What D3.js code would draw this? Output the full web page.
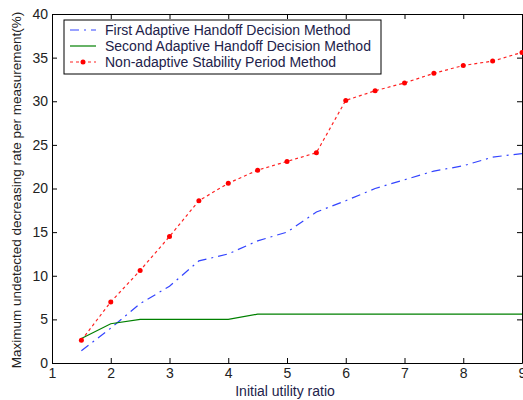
<!DOCTYPE html>
<html>
<head>
  <script src="https://d3js.org/d3.v7.min.js"></script>
  <style>
    body { margin: 0; background: white; }
    text { font-family: Arial, "Liberation Sans", sans-serif; }
  </style>
</head>
<body>
  <script>
    const ratios = [1.5, 2, 2.5, 3, 3.5, 4, 4.5, 5, 5.5, 6, 6.5, 7, 7.5, 8, 8.5, 9]
    const firstAdaptive = [1.4, 4.0, 6.8, 8.8, 11.7, 12.5, 14.0, 15.0, 17.3, 18.6, 20.0, 21.0, 22.0, 22.6, 23.6, 24.0]
    const secondAdaptive = [2.8, 4.5, 5.0, 5.0, 5.0, 5.0, 5.6, 5.6, 5.6, 5.6, 5.6, 5.6, 5.6, 5.6, 5.6, 5.6]
    const nonAdaptive = [2.6, 7.0, 10.6, 14.5, 18.6, 20.6, 22.1, 23.1, 24.1, 30.1, 31.2, 32.1, 33.2, 34.1, 34.6, 35.6]
    const xTicks = [1, 2, 3, 4, 5, 6, 7, 8, 9]
    const yTicks = [0, 5, 10, 15, 20, 25, 30, 35, 40]
    const seriesNames = ['First Adaptive Handoff Decision Method', 'Second Adaptive Handoff Decision Method', 'Non-adaptive Stability Period Method']

    const width = 523, height = 400
    const margin = {left: 52, right: 1, top: 14, bottom: 37}
    const svg = d3.select('body').append('svg')
      .attr('width', width).attr('height', height)

    const x = d3.scaleLinear().domain([1, 9]).range([margin.left, width - margin.right])
    const y = d3.scaleLinear().domain([0, 40]).range([height - margin.bottom, margin.top])

    // axes, matlab style: ticks inside, on all four sides
    const tickLen = 5
    svg.append('g').attr('transform', `translate(0,${y(0)})`)
      .call(d3.axisBottom(x).tickValues(xTicks).tickSizeInner(-tickLen).tickSizeOuter(0).tickPadding(5))
    svg.append('g').attr('transform', `translate(0,${y(40)})`)
      .call(d3.axisTop(x).tickValues(xTicks).tickSizeInner(-tickLen).tickSizeOuter(0).tickFormat(''))
    svg.append('g').attr('transform', `translate(${x(1)},0)`)
      .call(d3.axisLeft(y).tickValues(yTicks).tickSizeInner(-tickLen).tickSizeOuter(0).tickPadding(4))
    svg.append('g').attr('transform', `translate(${x(9)},0)`)
      .call(d3.axisRight(y).tickValues(yTicks).tickSizeInner(-tickLen).tickSizeOuter(0).tickFormat(''))
    svg.selectAll('.tick text').attr('font-size', 14).attr('fill', '#222')
      .attr('font-family', 'Arial, "Liberation Sans", sans-serif')
    svg.selectAll('.domain, .tick line').attr('stroke', 'black')

    const lineGen = d3.line().x((d, i) => x(ratios[i])).y(d => y(d))

    svg.append('path').attr('d', lineGen(firstAdaptive))
      .attr('fill', 'none').attr('stroke', '#3344ff').attr('stroke-width', 1.2)
      .attr('stroke-dasharray', '9,5,2,5')
    svg.append('path').attr('d', lineGen(secondAdaptive))
      .attr('fill', 'none').attr('stroke', '#008000').attr('stroke-width', 1.2)
    svg.append('path').attr('d', lineGen(nonAdaptive))
      .attr('fill', 'none').attr('stroke', '#ff2222').attr('stroke-width', 1.2)
      .attr('stroke-dasharray', '3,3')
    svg.selectAll('circle.pt').data(nonAdaptive).join('circle')
      .attr('class', 'pt')
      .attr('cx', (d, i) => x(ratios[i])).attr('cy', d => y(d))
      .attr('r', 2.5).attr('fill', 'red')

    // legend
    const lg = svg.append('g')
    lg.append('rect').attr('x', 64).attr('y', 20).attr('width', 317).attr('height', 54)
      .attr('fill', 'white').attr('stroke', 'black')
    const styles = [
      {stroke: '#3344ff', dash: '9,5,2,5'},
      {stroke: '#008000', dash: null},
      {stroke: '#ff2222', dash: '3,3'}
    ]
    seriesNames.forEach((name, i) => {
      const yy = 30 + i * 16
      lg.append('line').attr('x1', 70).attr('x2', 96).attr('y1', yy).attr('y2', yy)
        .attr('stroke', styles[i].stroke).attr('stroke-width', 1.2)
        .attr('stroke-dasharray', styles[i].dash)
      lg.append('text').attr('x', 105).attr('y', yy + 5).attr('font-size', 14)
        .attr('fill', '#22224a').text(name)
    })
    lg.append('circle').attr('cx', 83).attr('cy', 62).attr('r', 2.5).attr('fill', 'red')

    svg.append('text').attr('x', 285).attr('y', 396)
      .attr('text-anchor', 'middle').attr('font-size', 14).attr('fill', '#22224a')
      .text('Initial utility ratio')
    svg.append('text').attr('transform', `translate(21,190) rotate(-90)`)
      .attr('text-anchor', 'middle').attr('font-size', 13.5).attr('fill', '#222')
      .text('Maximum undetected decreasing rate per measurement(%)')
  </script>
</body>
</html>
